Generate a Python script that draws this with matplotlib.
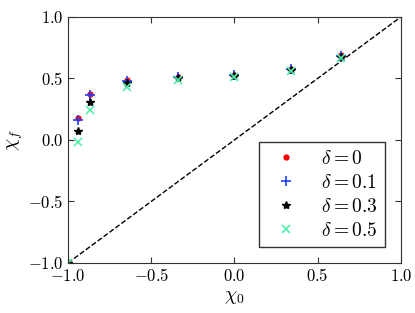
import matplotlib
matplotlib.use("Agg")
import matplotlib.pyplot as plt

plt.rcParams['mathtext.fontset'] = 'cm'
plt.rcParams['font.family'] = 'serif'
plt.rcParams['font.serif'] = ['DejaVu Serif']

chi0 = [-1.0, -0.940, -0.866, -0.643, -0.342, 0.0, 0.342, 0.643]
y_d0 = [-1.0, 0.178, 0.370, 0.484, 0.515, 0.530, 0.578, 0.690]
y_d01 = [-1.0, 0.165, 0.362, 0.480, 0.512, 0.528, 0.576, 0.685]
y_d03 = [-1.0, 0.073, 0.306, 0.466, 0.500, 0.520, 0.569, 0.677]
y_d05 = [-1.0, -0.016, 0.246, 0.433, 0.488, 0.512, 0.563, 0.664]
labels = [r'$\delta = 0$', r'$\delta = 0.1$', r'$\delta = 0.3$', r'$\delta = 0.5$']
ticks = [-1.0, -0.5, 0.0, 0.5, 1.0]

fig = plt.figure(figsize=(4.15, 3.13), dpi=100)
ax = fig.add_axes([0.164, 0.160, 0.802, 0.786])

ax.plot([-1, 1], [-1, 1], 'k--', lw=1)
ax.plot(chi0, y_d0, 'o', color='red', ms=3.5, mec='red', label=labels[0])
ax.plot(chi0, y_d01, '+', color='#2040ff', ms=7, mew=1.2, label=labels[1])
ax.plot(chi0, y_d03, '*', color='black', ms=6, label=labels[2])
ax.plot(chi0, y_d05, 'x', color='#50f0a8', ms=6, mew=1.2, label=labels[3])

ax.set_xlim(-1, 1)
ax.set_ylim(-1, 1)
ax.set_xticks(ticks)
ax.set_yticks(ticks)
fmt = lambda v: r'$%.1f$' % v
ax.set_xticklabels([fmt(t) for t in ticks], fontsize=12)
ax.set_yticklabels([fmt(t) for t in ticks], fontsize=12)
ax.tick_params(direction='in', top=True, right=True, length=4, color='#333333')
for s in ax.spines.values():
    s.set_color('#333333')
ax.set_xlabel(r'$\chi_0$', fontsize=14, labelpad=2)
ax.set_ylabel(r'$\chi_f$', fontsize=14, labelpad=2)

leg = ax.legend(loc='lower right', numpoints=1, fontsize=14, fancybox=False,
                edgecolor='#333333', framealpha=1, handletextpad=0.8,
                borderpad=0.4, labelspacing=0.3, borderaxespad=0.8)
leg.get_frame().set_linewidth(1.0)

fig.savefig('out.png', dpi=100)
